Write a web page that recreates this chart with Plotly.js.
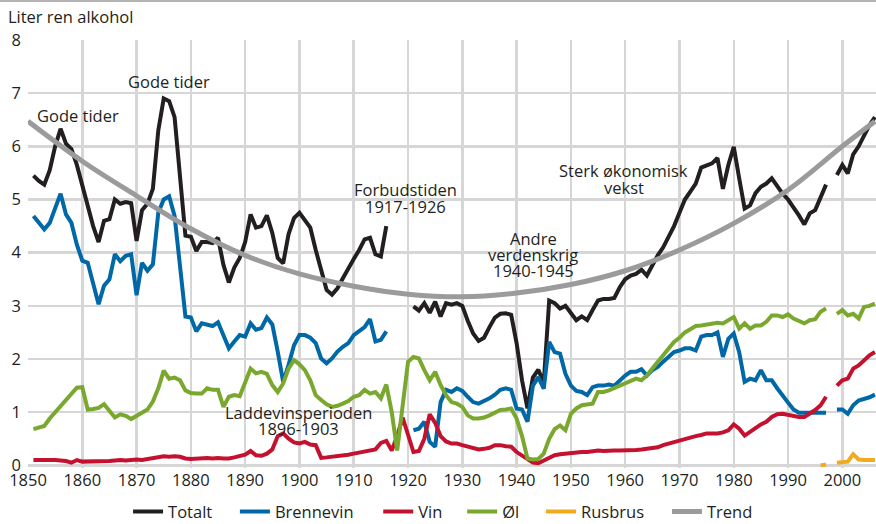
<!DOCTYPE html>
<html>
<head>
<meta charset="utf-8">
<script src="https://cdn.plot.ly/plotly-3.0.1.min.js"></script>
<style>
html,body{margin:0;padding:0;background:#fff;}
#chart{width:876px;height:524px;}
</style>
</head>
<body>
<div id="chart"></div>
<script>
// ---- Data (liter ren alkohol per innbygger) ----
const firstYear = 1851;

const totalt = [
  5.45,5.35,5.28,5.55,6.0,6.33,6.05,5.95,5.65,5.25,
  4.85,4.5,4.2,4.6,4.63,5.0,4.92,4.95,4.93,4.22,
  4.8,4.92,5.2,6.3,6.9,6.85,6.55,5.45,4.32,4.3,
  4.03,4.2,4.2,4.18,4.28,3.77,3.44,3.72,3.9,4.2,
  4.72,4.47,4.5,4.7,4.37,3.9,3.8,4.35,4.65,4.75,
  4.6,4.47,4.05,3.65,3.3,3.21,3.33,3.52,3.72,3.88,
  4.05,4.25,4.28,3.97,3.93,4.5,null,null,null,null,
  2.99,2.91,3.05,2.87,3.08,2.8,3.05,3.02,3.05,3.0,
  2.72,2.48,2.34,2.4,2.6,2.78,2.85,2.86,2.83,2.3,
  1.6,1.07,1.65,1.8,1.55,3.1,3.05,2.95,3.0,2.85,
  2.73,2.8,2.73,2.92,3.1,3.13,3.13,3.15,3.35,3.5,
  3.57,3.6,3.68,3.57,3.76,3.95,4.1,4.3,4.5,4.75,
  5.0,5.15,5.3,5.6,5.65,5.68,5.78,5.2,5.65,5.99,
  5.4,4.83,4.89,5.12,5.24,5.3,5.4,5.24,5.11,5.0,
  4.86,4.7,4.53,4.74,4.8,5.02,5.28,null,5.46,5.65,
  5.49,5.85,6.0,6.21,6.4,6.55
];

const brennevin = [
  4.69,4.55,4.44,4.56,4.85,5.11,4.72,4.56,4.15,3.85,
  3.81,3.4,3.03,3.38,3.5,3.97,3.84,3.94,3.97,3.2,
  3.81,3.66,3.78,4.75,5.0,5.06,4.69,3.75,2.8,2.78,
  2.52,2.67,2.64,2.62,2.69,2.45,2.2,2.33,2.45,2.42,
  2.67,2.55,2.58,2.78,2.65,2.14,1.57,1.89,2.26,2.45,
  2.45,2.4,2.3,2.01,1.92,2.01,2.14,2.23,2.3,2.45,
  2.52,2.6,2.75,2.33,2.36,2.52,null,null,null,null,
  0.66,0.69,0.82,0.44,0.35,1.19,1.42,1.38,1.45,1.4,
  1.29,1.19,1.16,1.2,1.26,1.33,1.42,1.45,1.42,1.07,
  1.05,0.82,1.5,1.66,1.44,2.32,2.13,2.1,1.72,1.5,
  1.4,1.38,1.32,1.47,1.5,1.5,1.52,1.5,1.6,1.69,
  1.76,1.76,1.81,1.69,1.79,1.85,1.95,2.05,2.13,2.16,
  2.2,2.2,2.16,2.42,2.45,2.45,2.5,2.04,2.38,2.48,
  2.13,1.57,1.63,1.6,1.79,1.6,1.6,1.45,1.3,1.18,
  1.05,0.99,0.99,0.99,1.0,1.0,0.99,null,1.05,1.05,
  0.97,1.13,1.22,1.25,1.28,1.33
];

const vin = [
  0.1,0.1,0.11,0.1,0.1,0.09,0.08,0.05,0.1,0.07,
  0.07,0.07,0.07,0.08,0.08,0.09,0.1,0.09,0.1,0.11,
  0.1,0.12,0.14,0.16,0.17,0.16,0.17,0.16,0.13,0.12,
  0.13,0.14,0.14,0.13,0.14,0.13,0.13,0.15,0.17,0.2,
  0.27,0.19,0.18,0.22,0.3,0.55,0.6,0.5,0.43,0.41,
  0.44,0.39,0.38,0.14,0.15,0.16,0.17,0.18,0.2,0.22,
  0.24,0.26,0.28,0.3,0.42,0.46,0.28,0.55,0.9,0.55,
  0.25,0.27,0.5,0.96,0.8,0.55,0.45,0.41,0.41,0.38,
  0.35,0.32,0.3,0.31,0.33,0.38,0.38,0.36,0.35,0.25,
  0.18,0.1,0.05,0.04,0.09,0.15,0.19,0.21,0.22,0.23,
  0.25,0.25,0.25,0.27,0.28,0.27,0.28,0.28,0.28,0.28,
  0.28,0.29,0.3,0.31,0.32,0.34,0.38,0.41,0.44,0.47,
  0.5,0.53,0.55,0.57,0.6,0.6,0.6,0.62,0.66,0.77,
  0.69,0.56,0.62,0.7,0.77,0.82,0.91,0.96,0.97,0.95,
  0.92,0.91,0.91,0.97,1.04,1.13,1.29,null,1.5,1.6,
  1.63,1.82,1.88,1.98,2.07,2.13
];

const ol = [
  0.68,0.72,0.74,0.88,1.0,1.12,1.24,1.36,1.46,1.47,
  1.05,1.06,1.08,1.15,1.02,0.9,0.96,0.93,0.87,0.93,
  0.99,1.05,1.2,1.45,1.78,1.63,1.65,1.6,1.41,1.36,
  1.35,1.35,1.45,1.42,1.42,1.1,1.29,1.32,1.3,1.57,
  1.82,1.73,1.76,1.72,1.51,1.38,1.54,1.82,1.98,1.9,
  1.79,1.6,1.32,1.23,1.15,1.1,1.12,1.16,1.21,1.29,
  1.32,1.42,1.35,1.38,1.26,1.52,1.0,0.28,1.1,1.95,
  2.04,2.01,1.79,1.6,1.76,1.51,1.32,1.19,1.16,1.1,
  0.94,0.88,0.88,0.9,0.94,1.0,1.04,1.05,1.07,0.88,
  0.55,0.13,0.11,0.12,0.22,0.5,0.68,0.75,0.66,0.97,
  1.07,1.13,1.15,1.16,1.38,1.38,1.41,1.45,1.5,1.55,
  1.58,1.63,1.6,1.69,1.82,1.94,2.07,2.19,2.32,2.4,
  2.5,2.56,2.62,2.63,2.65,2.66,2.68,2.67,2.72,2.79,
  2.57,2.67,2.57,2.63,2.63,2.7,2.82,2.82,2.79,2.84,
  2.76,2.72,2.67,2.73,2.75,2.89,2.95,null,2.85,2.92,
  2.82,2.85,2.76,2.98,3.0,3.04
];

const rusbrusYears  = [1996,1997,1998,1999,2000,2001,2002,2003,2004,2005,2006];
const rusbrus       = [0.0,0.01,null,0.05,0.06,0.07,0.21,0.11,0.1,0.1,0.1];

const trendYears  = [1850,1860,1870,1880,1890,1900,1910,1920,1930,1940,1950,1960,1970,1980,1990,2000,2006];
const trend       = [6.47,5.72,5.07,4.45,3.95,3.6,3.37,3.22,3.17,3.24,3.4,3.66,4.05,4.55,5.18,6.0,6.47];

const seriesNames = ["Totalt","Brennevin","Vin","Øl","Rusbrus","Trend"];
const yTickVals = [0,1,2,3,4,5,6,7,8];
const xTickVals = [1850,1860,1870,1880,1890,1900,1910,1920,1930,1940,1950,1960,1970,1980,1990,2000];

const years = totalt.map((_, i) => firstYear + i);

// ---- Styling ----
const FONT = "'Open Sans', 'Noto Sans', sans-serif";
const TXT = "#231f20";
const colors = {
  Totalt: "#231f20",
  Brennevin: "#0068a6",
  Vin: "#c4112f",
  "Øl": "#7aa82e",
  Rusbrus: "#f2aa1f",
  Trend: "#9b9b9e"
};
// left edge (paper fraction) of each single-entry legend
const legendX = [0.118, 0.244, 0.413, 0.512, 0.605, 0.7535];
const legendIds = ["legend", "legend2", "legend3", "legend4", "legend5", "legend6"];

function line(idx, x, y, w, extra) {
  const name = seriesNames[idx];
  return Object.assign({
    type: "scatter", mode: "lines", name: name, x: x, y: y,
    line: {color: colors[name], width: w},
    legend: legendIds[idx],
    connectgaps: false, hoverinfo: "skip"
  }, extra || {});
}

const traces = [
  line(0, years, totalt, 4),
  line(1, years, brennevin, 4),
  line(2, years, vin, 4),
  line(3, years, ol, 4),
  line(4, rusbrusYears, rusbrus, 4),
  line(5, trendYears, trend, 5, {line: {color: colors.Trend, width: 5, shape: "spline", smoothing: 1}})
];

function note(text, x, y) {
  return {text: text, x: x, y: y, xref: "x", yref: "y", showarrow: false,
          xanchor: "center", yanchor: "middle",
          font: {family: FONT, size: 16.5, color: TXT}};
}

const annotations = [
  note("Gode tider", 1859.3, 6.58),
  note("Gode tider", 1876.0, 7.22),
  note("Forbudstiden", 1919.5, 5.19),
  note("1917-1926", 1919.5, 4.86),
  note("Andre", 1943.1, 4.27),
  note("verdenskrig", 1943.1, 3.97),
  note("1940-1945", 1943.1, 3.67),
  note("Sterk økonomisk", 1959.7, 5.54),
  note("vekst", 1959.7, 5.23),
  note("Laddevinsperioden", 1899.9, 1.0),
  note("1896-1903", 1899.9, 0.69)
];

const layout = {
  width: 876, height: 524,
  margin: {l: 28, r: 0, t: 40, b: 56, pad: 0, autoexpand: false},
  paper_bgcolor: "#fff", plot_bgcolor: "#fff",
  font: {family: FONT, size: 16, color: TXT},
  title: {text: "Liter ren alkohol", x: 0.009, xanchor: "left", xref: "container",
          y: 0.967, yanchor: "middle", yref: "container",
          font: {family: FONT, size: 16.5, color: TXT}},
  showlegend: true,
  xaxis: {range: [1850, 2006.2], tickmode: "array", tickvals: xTickVals,
          showgrid: true, gridcolor: "#d6d6d6", gridwidth: 2.5,
          zeroline: false, showline: false, ticks: "",
          tickfont: {family: FONT, size: 16.5, color: TXT}, fixedrange: true},
  yaxis: {range: [-0.05, 8], tickmode: "array", tickvals: yTickVals,
          showgrid: true, gridcolor: "#d6d6d6", gridwidth: 2.5,
          zeroline: false, showline: false, ticks: "", ticklabelstandoff: 6,
          tickfont: {family: FONT, size: 16.5, color: TXT}, fixedrange: true},
  annotations: annotations,
  shapes: [{type: "line", xref: "paper", yref: "paper", x0: -0.04, x1: 1.0, y0: 1.091, y1: 1.091,
            line: {color: "#9a9a9a", width: 1.5}}]
};

legendIds.forEach((id, i) => {
  layout[id] = {orientation: "h", x: legendX[i], xanchor: "left", y: -0.1025, yanchor: "middle",
                font: {family: FONT, size: 16.5, color: TXT}, itemwidth: 30,
                bgcolor: "rgba(0,0,0,0)", borderwidth: 0};
});

Plotly.newPlot("chart", traces, layout, {staticPlot: true, displayModeBar: false});
</script>
</body>
</html>
